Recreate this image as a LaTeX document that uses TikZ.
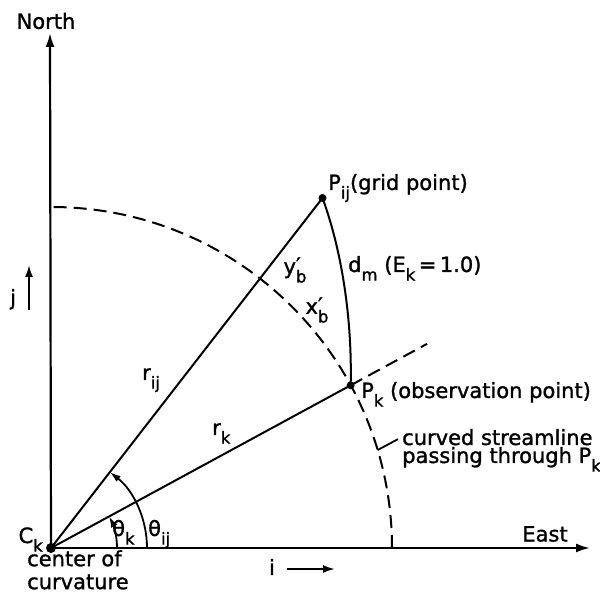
\documentclass[tikz,border=0pt]{standalone}
\usepackage{fontspec}
\setmainfont{DejaVu Sans}[FakeBold=1.3]
\usetikzlibrary{arrows.meta,calc}
\newcommand\sbs[1]{\raisebox{-0.75ex}{\fontsize{16.5}{16.5}\selectfont #1}}
\newcommand\prb{\rlap{\raisebox{0.1ex}{′}}\sbs{b}}
\begin{document}
\begin{tikzpicture}[x=1pt,y=1pt,
  font=\fontsize{21}{21}\selectfont,
  solidline/.style={line width=2pt},
  axisarrow/.style={line width=2.2pt,-{Latex[length=14pt,width=9pt]}},
  smallarrow/.style={line width=2pt,-{Latex[length=12pt,width=8pt]}},
  dashline/.style={line width=2pt,dash pattern=on 13pt off 7pt},
  dot/.style={circle,fill,inner sep=0pt,minimum size=8pt},
  lbl/.style={inner sep=0pt},
  anglearrow/.style={line width=1.8pt,-{Latex[length=11pt,width=7pt]}}]
\useasboundingbox (0,0) rectangle (600,594);
\coordinate (C) at (51,46);
\node[dot,minimum size=10pt] (Ck) at (C) {};
\node[dot] (Pk) at ($(C)+(28.5:341)$) {};
\node[dot] (Pij) at ($(C)+(52.2:443)$) {};
\coordinate (Ntip) at (50,561);
\coordinate (Etip) at (590,46);
\coordinate (Pkext) at ($(C)+(28.5:428)$);
\coordinate (S) at ($(C)+(16.7:341)$);
\coordinate (jbot) at (29,284);
\coordinate (jtop) at (29,329);
\coordinate (ileft) at (287,25);
\coordinate (iright) at (335,25);

% axes
\draw[axisarrow] (Ck.center) -- (Ntip);
\draw[axisarrow] (Ck.center) -- (Etip);
% streamline circle
\draw[dashline] ($(C)+(0:341)$) arc[start angle=0,end angle=90,radius=341];
% radii
\draw[solidline] (Ck.center) -- (Pij.center);
\draw[solidline] (Ck.center) -- (Pk.center);
\draw[dashline] (Pk.center) -- (Pkext);
% d_m arc
\draw[solidline] (Pij.center) .. controls (345,334) and (352,264) .. (Pk.center);
% angle arcs
\draw[anglearrow] ($(C)+(0:66)$) arc[start angle=0,end angle=28.5,radius=66];
\draw[anglearrow] ($(C)+(0:96)$) arc[start angle=0,end angle=52.2,radius=96];
% unit arrows
\draw[smallarrow] (jbot) -- (jtop);
\draw[smallarrow] (ileft) -- (iright);

% labels
\node[lbl] (north) at (46,573) {North};
\node[lbl] (east) at (545,60) {East};
\node[lbl,anchor=base west] (jl) at (10,289) {j};
\node[lbl,anchor=base] (il) at (272,19) {i};
\node[lbl,anchor=base east] (ckl) at (43,51) {C\sbs{k}};
\node[lbl,anchor=north west,align=left,font=\fontsize{21}{23}\selectfont] (coc) at (27,44) {center of\\curvature};
\node[lbl,anchor=base west] (thk) at (112,58) {θ\sbs{k}};
\node[lbl,anchor=base west] (thij) at (148,58) {θ\sbs{ij}};
\node[lbl,anchor=base west] (rij) at (142,214) {r\sbs{ij}};
\node[lbl,anchor=base west] (rk) at (212,159) {r\sbs{k}};
\node[lbl,anchor=base west] (pijl) at (328,404) {P\sbs{ij}(grid point)};
\node[lbl,anchor=base west] (dml) at (348,322) {d\sbs{m} (E\sbs{k}\,=\,1.0)};
\node[lbl] (ybl) at (295,324) {y\prb};
\node[lbl] (xbl) at (317,284) {x\prb};
\node[lbl,anchor=base west] (pkl) at (361,196) {P\sbs{k} (observation point)};
\node[lbl,anchor=base west] (curv) at (402,149) {curved streamline};
\node[lbl,anchor=base west] (pass) at (402,131) {passing through P\sbs{k}};
\draw[line width=1.8pt] ([xshift=-4pt,yshift=-2pt]curv.west) -- (S);
\end{tikzpicture}
\end{document}
